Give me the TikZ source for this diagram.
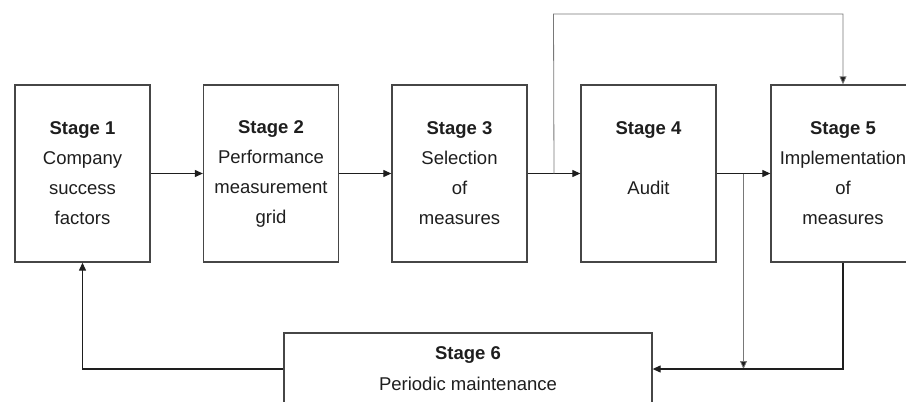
\documentclass[tikz,border=0pt]{standalone}
\usepackage{fontspec}
\setmainfont{Liberation Sans}
\usetikzlibrary{arrows.meta,calc}
\definecolor{boxgray}{RGB}{70,70,70}
\definecolor{linegray}{RGB}{120,120,120}
\definecolor{inkdark}{RGB}{30,30,30}
\begin{document}
\begin{tikzpicture}[x=1pt,y=-1pt,
  stagebox/.style={draw=boxgray, line width=1.3pt, fill=white, text=inkdark,
    minimum width=135pt, minimum height=177pt, align=center, inner sep=0pt,
    font=\fontsize{18.5}{30}\selectfont},
  flow/.style={draw=inkdark, line width=1.1pt, -{Triangle[length=8pt,width=7pt]}},
  thinflow/.style={draw=linegray, line width=0.8pt, -{Triangle[length=8pt,width=7pt,fill=inkdark]}},
]
\useasboundingbox (0,0) rectangle (906,402);
\fill[white] (0,0) rectangle (906,402);
\clip (0,0) rectangle (906,402);

% the six stages
\node[stagebox] (s1) at (82.5,173.5) {\textbf{Stage 1}\\Company\\success\\factors};
\node[stagebox] (s2) at (271,173.5) {\textbf{Stage 2}\\Performance\\measurement\\grid};
\node[stagebox] (s3) at (459.5,173.5) {\textbf{Stage 3}\\Selection\\of\\measures};
\node[stagebox] (s4) at (648.5,173.5) {\textbf{Stage 4}\\\mbox{}\\Audit\\\mbox{}};
\node[stagebox, minimum width=144pt] (s5) at (843,173.5) {\textbf{Stage 5}\\Implementation\\of\\measures};
\node[stagebox, minimum width=368pt, minimum height=72pt,
  font=\fontsize{18.5}{31}\selectfont] (s6) at (468,369) {\textbf{Stage 6}\\Periodic maintenance};

% junction points on the main line
\coordinate (m34) at ($(s3.east)!0.5!(s4.west)$);
\coordinate (m45) at ($(s4.east)!0.5!(s5.west)$);
\coordinate (top) at (553.5,14);

% main sequence
\draw[flow] (s1) -- (s2);
\draw[flow] (s2) -- (s3);
\draw[flow] (s3) -- (s4);
\draw[flow] (s4) -- (s5);

% bypass from stage 3 straight to stage 5
\draw[thinflow] (m34) -- (top) -| (s5.north);

% audit result into maintenance
\draw[thinflow] (m45) -- (m45 |- s6.east);

% feedback loop
\draw[flow] (s5.south) |- (s6.east);
\draw[flow] (s6.west) -| (s1.south);
\end{tikzpicture}
\end{document}
